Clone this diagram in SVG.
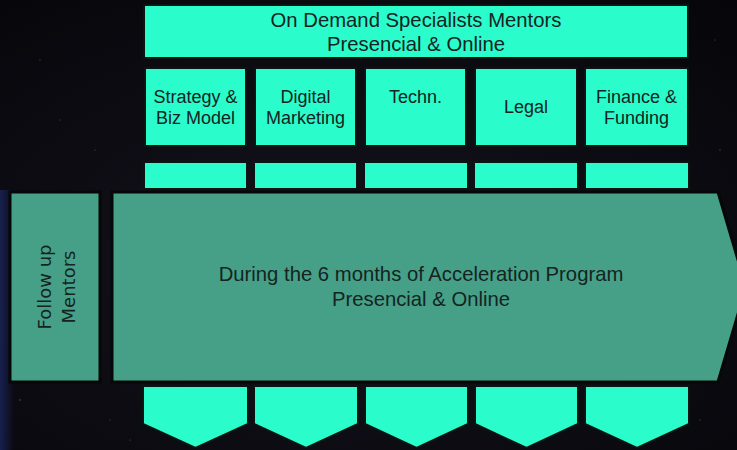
<svg xmlns="http://www.w3.org/2000/svg" width="737" height="450" viewBox="0 0 737 450">
  <defs>
    <radialGradient id="sky" cx="0.45" cy="0.6" r="0.8">
      <stop offset="0" stop-color="#15121c"/>
      <stop offset="0.7" stop-color="#0b0a10"/>
      <stop offset="1" stop-color="#060509"/>
    </radialGradient>
    <linearGradient id="edge" x1="0" y1="0" x2="1" y2="0">
      <stop offset="0" stop-color="#1c2a6a" stop-opacity="0.7"/>
      <stop offset="1" stop-color="#1c2a6a" stop-opacity="0"/>
    </linearGradient>
    <style>
      .bright { fill: #2afccc; stroke: #0a1512; stroke-width: 2; }
      .band { fill: #46a088; stroke: #050807; stroke-width: 3; }
      .t { font-family: "Liberation Sans", Arial, sans-serif; fill: #15241f; text-anchor: middle; }
      .box { font-size: 18px; }
      .head { font-size: 20.3px; }
      .side { font-family: "DejaVu Sans", "Liberation Sans", sans-serif; font-size: 18px; fill: #15241f; text-anchor: middle; }
    </style>
  </defs>

  <!-- night-sky backdrop -->
  <rect width="737" height="450" fill="url(#sky)"/>
  <rect x="0" y="190" width="14" height="260" fill="url(#edge)"/>
  <g fill="#ffffff" opacity="0.35">
    <circle cx="40" cy="60" r="0.6"/><circle cx="95" cy="150" r="0.5"/><circle cx="20" cy="400" r="0.7"/>
    <circle cx="110" cy="420" r="0.5"/><circle cx="700" cy="420" r="0.6"/><circle cx="715" cy="40" r="0.5"/>
    <circle cx="60" cy="120" r="0.5"/><circle cx="720" cy="150" r="0.6"/><circle cx="130" cy="440" r="0.5"/>
  </g>

  <!-- header banner -->
  <g id="on-demand">
    <rect class="bright" x="144" y="5" width="544" height="53"/>
    <text class="t head" x="416" y="27">On Demand Specialists Mentors</text>
    <text class="t head" x="416" y="51">Presencial &amp; Online</text>
  </g>

  <!-- specialist areas -->
  <g id="strategy">
    <rect class="bright" x="145" y="68" width="101" height="78"/>
    <text class="t box" x="195.5" y="103">Strategy &amp;</text>
    <text class="t box" x="195.5" y="124">Biz Model</text>
  </g>
  <g id="digital-marketing">
    <rect class="bright" x="255" y="68" width="101" height="78"/>
    <text class="t box" x="305.5" y="103">Digital</text>
    <text class="t box" x="305.5" y="124">Marketing</text>
  </g>
  <g id="techn">
    <rect class="bright" x="365" y="68" width="101" height="78"/>
    <text class="t box" x="415.5" y="103">Techn.</text>
  </g>
  <g id="legal">
    <rect class="bright" x="475" y="68" width="102" height="78"/>
    <text class="t box" x="526" y="113">Legal</text>
  </g>
  <g id="finance">
    <rect class="bright" x="585" y="68" width="103" height="78"/>
    <text class="t box" x="636.5" y="103">Finance &amp;</text>
    <text class="t box" x="636.5" y="124">Funding</text>
  </g>

  <!-- connector stubs and down chevrons -->
  <g id="connectors">
    <rect class="bright" x="144" y="162" width="103" height="27"/>
    <rect class="bright" x="254" y="162" width="103" height="27"/>
    <rect class="bright" x="364" y="162" width="104" height="27"/>
    <rect class="bright" x="474" y="162" width="104" height="27"/>
    <rect class="bright" x="585" y="162" width="104" height="27"/>

    <polygon class="bright" points="143,386 248,386 248,424 195.5,448 143,424"/>
    <polygon class="bright" points="254,386 358,386 358,424 306,448 254,424"/>
    <polygon class="bright" points="365,386 468,386 468,424 416.5,448 365,424"/>
    <polygon class="bright" points="475,386 578,386 578,424 526.5,448 475,424"/>
    <polygon class="bright" points="585,386 689,386 689,424 637,448 585,424"/>
  </g>

  <!-- follow up column -->
  <g id="follow-up">
    <rect class="band" x="10" y="192" width="90" height="190"/>
    <g transform="translate(55,287) rotate(-90)">
      <text class="side" x="0" y="-4">Follow up</text>
      <text class="side" x="0" y="20">Mentors</text>
    </g>
  </g>

  <!-- programme arrow -->
  <g id="program">
    <polygon class="band" points="112,192 718,192 746,287 718,382 112,382"/>
    <text class="t head" x="421" y="281">During the 6 months of Acceleration Program</text>
    <text class="t head" x="421" y="306">Presencial &amp; Online</text>
  </g>
</svg>
